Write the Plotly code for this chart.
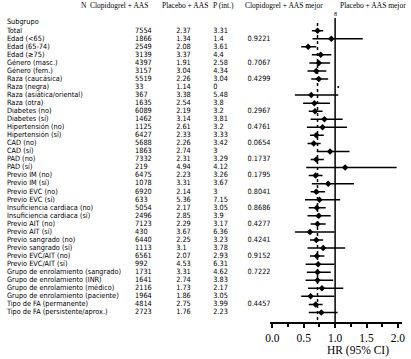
import plotly.graph_objects as go

# ---------------- data ----------------
labels = ["Total", "Edad (<65)", "Edad (65-74)", "Edad (≥75)", "Género (masc.)", "Género (fem.)",
          "Raza (caucásica)", "Raza (negra)", "Raza (asiática/oriental)", "Raza (otra)",
          "Diabetes (no)", "Diabetes (sí)", "Hipertensión (no)", "Hipertensión (sí)",
          "CAD (no)", "CAD (sí)", "PAD (no)", "PAD (sí)", "Previo IM (no)", "Previo IM (sí)",
          "Previo EVC (no)", "Previo EVC (sí)", "Insuficiencia cardiaca (no)",
          "Insuficiencia cardiaca (sí)", "Previo AIT (no)", "Previo AIT (sí)",
          "Previo sangrado (no)", "Previo sangrado (sí)", "Previo EVC/AIT (no)",
          "Previo EVC/AIT (sí)", "Grupo de enrolamiento (sangrado)",
          "Grupo de enrolamiento (INR)", "Grupo de enrolamiento (médico)",
          "Grupo de enrolamiento (paciente)", "Tipo de FA (permanente)",
          "Tipo de FA (persistente/aprox.)"]
n_pat = [7554, 1866, 2549, 3139, 4397, 3157, 5519, 33, 367, 1635, 6089, 1462, 1125, 6427,
         5688, 1863, 7332, 219, 6475, 1078, 6920, 633, 5054, 2496, 7123, 430, 6440, 1113,
         6561, 992, 1731, 1641, 2116, 1964, 4814, 2723]
rate_clop = [2.37, 1.34, 2.08, 3.37, 1.91, 3.04, 2.26, 1.14, 3.38, 2.54, 2.19, 3.14, 2.61, 2.33,
             2.26, 2.74, 2.31, 4.94, 2.23, 3.31, 2.14, 5.36, 2.17, 2.85, 2.29, 3.67, 2.25, 3.1,
             2.07, 4.53, 3.31, 2.74, 1.73, 1.86, 2.75, 1.76]
rate_plac = [3.31, 1.4, 3.61, 4.4, 2.58, 4.34, 3.04, 0, 5.48, 3.8, 3.2, 3.81, 3.2, 3.33,
             3.42, 3, 3.29, 4.12, 3.26, 3.67, 3, 7.15, 3.05, 3.9, 3.17, 6.36, 3.23, 3.78,
             2.93, 6.31, 4.62, 3.83, 2.17, 3.05, 3.99, 2.23]
p_int = ["", "0.9221", "", "", "0.7067", "", "0.4299", "", "", "", "0.2967", "", "0.4761", "",
         "0.0654", "", "0.1737", "", "0.1795", "", "0.8041", "", "0.8686", "", "0.4277", "",
         "0.4241", "", "0.9152", "", "0.7222", "", "", "", "0.4457", ""]
hr = [0.72, 0.94, 0.57, 0.77, 0.74, 0.70, 0.74, 1.05, 0.62, 0.67, 0.68, 0.83, 0.80, 0.70,
      0.66, 0.92, 0.70, 1.16, 0.69, 0.89, 0.70, 0.75, 0.71, 0.74, 0.72, 0.60, 0.70, 0.81,
      0.71, 0.73, 0.72, 0.72, 0.79, 0.61, 0.69, 0.78]
ci_lo = [0.63, 0.64, 0.46, 0.63, 0.59, 0.56, 0.62, None, 0.36, 0.49, 0.58, 0.61, 0.55, 0.60,
         0.56, 0.71, 0.61, 0.54, 0.58, 0.63, 0.61, 0.52, 0.58, 0.56, 0.61, 0.36, 0.60, 0.56,
         0.60, 0.53, 0.55, 0.53, 0.57, 0.46, 0.58, 0.58]
ci_hi = [0.81, 1.44, 0.70, 0.94, 0.92, 0.86, 0.89, None, 1.05, 0.92, 0.80, 1.12, 1.19, 0.82,
         0.77, 1.23, 0.82, 1.98, 0.80, 1.30, 0.84, 1.08, 0.85, 0.93, 0.85, 0.99, 0.81, 1.16,
         0.83, 0.99, 0.93, 0.97, 1.13, 0.99, 0.80, 1.04]
x_ticks = [0, 0.5, 1.0, 1.5, 2.0]
x_ticktext = ["0.0", "0.5", "1.0", "1.5", "2.0"]
x_minor = [0.25, 0.75, 1.25, 1.75]
headers = ["N", "Clopidogrel + AAS", "Placebo + AAS", "P (int.)",
           "Clopidogrel + AAS mejor", "Placebo + AAS mejor"]

# ---------------- layout helpers ----------------
W, H = 411, 359
ROW0, ROWSTEP = 30.7, 8.05          # pixel y of first row, pixels per row


def row_of(px):
    return (px - ROW0) / ROWSTEP


def fmt(v):
    return f"{v:g}"


SANS = "Liberation Sans Narrow, Arial Narrow, DejaVu Sans Condensed, Liberation Sans, sans-serif"
SERIF = "Liberation Serif, Times New Roman, serif"
rows = list(range(len(labels)))
AXIS_Y = 323

fig = go.Figure()

# reference lines
fig.add_trace(go.Scatter(x=[1, 1], y=[row_of(18), row_of(AXIS_Y)], mode="lines",
                         line=dict(color="black", width=1.5), xaxis="x", yaxis="y",
                         hoverinfo="skip", showlegend=False, cliponaxis=False))
fig.add_trace(go.Scatter(x=[hr[0], hr[0]], y=[row_of(23), row_of(AXIS_Y)], mode="lines",
                         line=dict(color="black", width=1.5, dash="dot"), xaxis="x", yaxis="y",
                         hoverinfo="skip", showlegend=False, cliponaxis=False))

# CI + points
ci_rows = [r for r in rows if ci_lo[r] is not None]
fig.add_trace(go.Scatter(
    x=[hr[r] for r in ci_rows], y=ci_rows, mode="markers",
    marker=dict(symbol="diamond", size=5, color="black"),
    error_x=dict(type="data", symmetric=False,
                 array=[ci_hi[r] - hr[r] for r in ci_rows],
                 arrayminus=[hr[r] - ci_lo[r] for r in ci_rows],
                 width=0, thickness=1.5, color="black"),
    xaxis="x", yaxis="y", hoverinfo="skip", showlegend=False, cliponaxis=False))
no_ci = [r for r in rows if ci_lo[r] is None]
fig.add_trace(go.Scatter(x=[hr[r] for r in no_ci], y=no_ci, mode="markers",
                         marker=dict(size=2, color="black"), xaxis="x", yaxis="y",
                         hoverinfo="skip", showlegend=False, cliponaxis=False))

# table text
tfont = dict(family=SANS, size=7.3, color="black")
cols = [
    (2, ["Subgrupo"] + labels),
    (133, [""] + [str(v) for v in n_pat]),
    (175, [""] + [fmt(v) for v in rate_clop]),
    (213, [""] + [fmt(v) for v in rate_plac]),
    (248, [""] + p_int),
]
for xpix, texts in cols:
    fig.add_trace(go.Scatter(x=[xpix] * len(texts), y=[-1] + rows, mode="text", text=texts,
                             textposition="middle right", textfont=tfont,
                             xaxis="x2", yaxis="y", hoverinfo="skip", showlegend=False,
                             cliponaxis=False))

# header
hdr_x = [76, 85, 158, 211, 243, 340]
for hx, ht in zip(hdr_x, headers):
    fig.add_annotation(x=hx / W, y=1 - 6 / H, xref="paper", yref="paper", text=ht,
                       showarrow=False, xanchor="left", yanchor="middle",
                       font=dict(family=SERIF, size=7.5, color="black"))
fig.add_annotation(x=337.5 / W, y=1 - 14 / H, xref="paper", yref="paper", text="8",
                   showarrow=False, xanchor="center", yanchor="middle",
                   font=dict(family=SERIF, size=6, color="black"))
fig.add_annotation(x=361 / W, y=1 - 350 / H, xref="paper", yref="paper", text="HR (95% CI)",
                   showarrow=False, xanchor="center", yanchor="middle",
                   font=dict(family=SERIF, size=11.5, color="black"))

X0PIX, XUNIT = 273.3, 64.2
xr = [-0.04, 2.06]
fig.update_layout(
    width=W, height=H, margin=dict(l=0, r=0, t=0, b=0),
    paper_bgcolor="white", plot_bgcolor="rgba(0,0,0,0)",
    xaxis=dict(domain=[(X0PIX + xr[0] * XUNIT) / W, (X0PIX + xr[1] * XUNIT) / W],
               range=xr, anchor="free", position=1 - AXIS_Y / H,
               showline=True, linecolor="black", linewidth=1.5,
               ticks="outside", ticklen=4, tickwidth=1.5, tickcolor="black",
               tickvals=x_ticks, ticktext=x_ticktext,
               minor=dict(tickvals=x_minor, ticks="outside", ticklen=3,
                          tickwidth=1.5, tickcolor="black"),
               tickfont=dict(family=SERIF, size=11.5, color="black"),
               showgrid=False, zeroline=False, fixedrange=True),
    xaxis2=dict(domain=[0, 1], range=[0, W], anchor="y", visible=False, fixedrange=True),
    yaxis=dict(domain=[0, 1], range=[row_of(H), row_of(0)], visible=False, fixedrange=True),
)

fig.write_html("out.html", config={"displayModeBar": False},
               post_script="document.body.style.margin='0';document.body.style.overflow='hidden';")
